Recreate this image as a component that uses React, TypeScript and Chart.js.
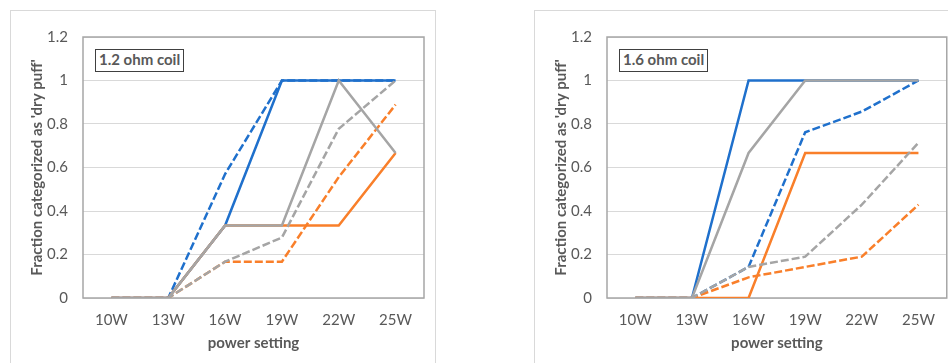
import React, { useEffect, useRef } from "react";
import { Chart, registerables } from "chart.js";

Chart.register(...registerables);

const categories = ["10W", "13W", "16W", "19W", "22W", "25W"];
const yTickLabels = ["0", "0.2", "0.4", "0.6", "0.8", "1", "1.2"];

// 1.2 ohm coil
const c12GraySolid = [0, 0, 0.333, 0.333, 1, 0.667];
const c12GrayDashed = [0, 0, 0.167, 0.278, 0.778, 1];
const c12OrangeSolid = [0, 0, 0.333, 0.333, 0.333, 0.667];
const c12OrangeDashed = [0, 0, 0.167, 0.167, 0.556, 0.889];
const c12BlueSolid = [0, 0, 0.333, 1, 1, 1];
const c12BlueDashed = [0, 0, 0.57, 1, 1, 1];

// 1.6 ohm coil
const c16GraySolid = [0, 0, 0.667, 1, 1, 1];
const c16GrayDashed = [0, 0, 0.143, 0.19, 0.429, 0.714];
const c16OrangeSolid = [0, 0, 0, 0.667, 0.667, 0.667];
const c16OrangeDashed = [0, 0, 0.095, 0.143, 0.19, 0.429];
const c16BlueSolid = [0, 0, 1, 1, 1, 1];
const c16BlueDashed = [0, 0, 0.143, 0.762, 0.857, 1];

const BLUE = "#1F70CC";
const ORANGE = "#F97F2A";
const GRAY = "#A5A5A5";
const TEXT = "#595959";
const FONT = "Lato, 'Open Sans', sans-serif";

type S = { data: number[]; color: string; dashed: boolean };

const panel12: S[] = [
  { data: c12GraySolid, color: GRAY, dashed: false },
  { data: c12GrayDashed, color: GRAY, dashed: true },
  { data: c12OrangeSolid, color: ORANGE, dashed: false },
  { data: c12OrangeDashed, color: ORANGE, dashed: true },
  { data: c12BlueSolid, color: BLUE, dashed: false },
  { data: c12BlueDashed, color: BLUE, dashed: true },
];
const panel16: S[] = [
  { data: c16GraySolid, color: GRAY, dashed: false },
  { data: c16GrayDashed, color: GRAY, dashed: true },
  { data: c16OrangeSolid, color: ORANGE, dashed: false },
  { data: c16OrangeDashed, color: ORANGE, dashed: true },
  { data: c16BlueSolid, color: BLUE, dashed: false },
  { data: c16BlueDashed, color: BLUE, dashed: true },
];

const frame = {
  id: "frame",
  beforeDatasetsDraw(chart: any) {
    const { ctx, chartArea: a } = chart;
    ctx.save();
    ctx.strokeStyle = "#A6A6A6";
    ctx.lineWidth = 1.5;
    ctx.strokeRect(a.left, a.top, a.right - a.left, a.bottom - a.top);
    ctx.restore();
  },
};

function Panel({ x, w, padRight, series, label }: { x: number; w: number; padRight: number; series: S[]; label: string }) {
  const ref = useRef<HTMLCanvasElement>(null);
  useEffect(() => {
    const chart = new Chart(ref.current!, {
      type: "line",
      data: {
        labels: categories,
        datasets: series.map((s) => ({
          data: s.data,
          borderColor: s.color,
          backgroundColor: s.color,
          borderWidth: 2.5,
          borderDash: s.dashed ? [8, 3] : [],
          pointRadius: 0,
          tension: 0,
          fill: false,
        })),
      },
      options: {
        responsive: false,
        animation: false,
        layout: { padding: { left: 0, top: 37, right: padRight, bottom: 0 } },
        plugins: { legend: { display: false }, tooltip: { enabled: false } },
        scales: {
          x: {
            offset: true,
            afterFit: (s: any) => { s.height = 65; },
            grid: { display: false, drawTicks: false, offset: true },
            border: { display: false },
            ticks: { color: TEXT, font: { family: FONT, size: 15 }, padding: 13, maxRotation: 0 },
            title: { display: true, text: "power setting", color: TEXT, font: { family: FONT, size: 15, weight: "bold" }, padding: { top: 0, bottom: 11 } },
          },
          y: {
            min: 0,
            max: 1.2,
            afterFit: (s: any) => { s.width = 83; },
            afterBuildTicks: (s: any) => { s.ticks = yTickLabels.map((t) => ({ value: parseFloat(t) })); },
            grid: { color: "#D9D9D9", lineWidth: 1, drawTicks: false },
            border: { display: false },
            ticks: {
              color: TEXT,
              font: { family: FONT, size: 15 },
              padding: 15,
              callback: (_v: any, i: number) => yTickLabels[i],
            },
            title: { display: true, text: "Fraction categorized as 'dry puff'", color: TEXT, font: { family: FONT, size: 15, weight: "bold" }, padding: { top: 28, bottom: 0 } },
          },
        },
      },
      plugins: [frame],
    } as any);
    return () => chart.destroy();
  }, []);
  return (
    <>
      <canvas ref={ref} width={w} height={363} style={{ position: "absolute", left: x, top: 0, width: w, height: 363 }} />
      <div
        style={{
          position: "absolute",
          left: x + 95,
          top: 49,
          border: "1px solid #404040",
          padding: "0 3px",
          height: 21,
          lineHeight: "21px",
          font: `bold 15px ${FONT}`,
          color: TEXT,
          background: "#fff",
          whiteSpace: "nowrap",
        }}
      >
        {label}
      </div>
    </>
  );
}

export default function App() {
  return (
    <div style={{ position: "fixed", left: 0, top: 0, width: 948, height: 363, background: "#fff", overflow: "hidden" }}>
      <div style={{ position: "absolute", left: 10, top: 10, width: 424, height: 400, border: "1px solid #D9D9D9" }} />
      <div style={{ position: "absolute", left: 534, top: 10, width: 440, height: 400, border: "1px solid #D9D9D9" }} />
      <Panel x={0} w={474} padRight={50} series={panel12} label="1.2 ohm coil" />
      <Panel x={524} w={424} padRight={1} series={panel16} label="1.6 ohm coil" />
    </div>
  );
}
